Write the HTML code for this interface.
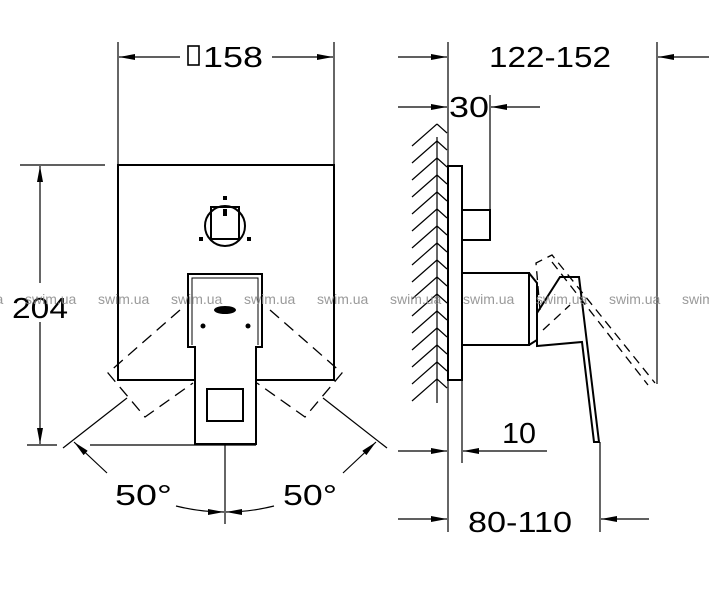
<!DOCTYPE html>
<html><head><meta charset="utf-8"><style>
html,body{margin:0;padding:0;background:#fff;}
svg{display:block;}
text{font-family:"Liberation Sans Narrow","Liberation Sans",sans-serif;}
</style></head><body>
<svg width="709" height="600" viewBox="0 0 709 600" xmlns="http://www.w3.org/2000/svg">
<defs>
<marker id="a" viewBox="0 0 16 6" refX="16" refY="3" markerWidth="16" markerHeight="6" markerUnits="userSpaceOnUse" orient="auto"><path d="M0,0 L16,3 L0,6 Z" fill="#000"/></marker>
</defs>
<g stroke="#000" fill="none" stroke-width="1.2">
<!-- top 158 dim -->
<line x1="118" y1="42" x2="118" y2="165"/>
<line x1="334" y1="42" x2="334" y2="165"/>
<line x1="180" y1="57" x2="119" y2="57" marker-end="url(#a)"/>
<line x1="272" y1="57" x2="333" y2="57" marker-end="url(#a)"/>
<!-- left 204 dim -->
<line x1="20" y1="165" x2="105" y2="165"/>
<line x1="27" y1="445" x2="57" y2="445"/>
<line x1="90" y1="445" x2="256" y2="445"/>
<line x1="40" y1="283" x2="40" y2="166" marker-end="url(#a)"/>
<line x1="40" y1="322" x2="40" y2="444" marker-end="url(#a)"/>
<!-- rays -->
<line x1="63" y1="448" x2="127" y2="398"/>
<line x1="387" y1="448" x2="323" y2="398"/>
<line x1="107" y1="473" x2="74" y2="442" marker-end="url(#a)"/>
<line x1="343" y1="473" x2="376" y2="442" marker-end="url(#a)"/>
<line x1="225" y1="445" x2="225" y2="524"/>
<path d="M176,506 Q200,512 224,512" marker-end="url(#a)"/>
<path d="M274,506 Q250,512 226,512" marker-end="url(#a)"/>
</g>
<g stroke="#000" fill="none" stroke-width="2">
<rect x="118" y="165" width="216" height="215"/>
<circle cx="225" cy="226" r="20"/>
<rect x="211" y="207" width="28" height="32"/>
<path d="M188,347 V274 H262 V347 H256 V444 H195 V347 Z" fill="#fff"/>
<path d="M192,345 V278 H258 V345" stroke-width="1"/>
<rect x="207" y="389" width="36" height="32"/>
</g>
<g fill="#000">
<rect x="223" y="196" width="4" height="4"/><rect x="223" y="209" width="4" height="7"/>
<rect x="199" y="237" width="4" height="4"/><rect x="247" y="237" width="4" height="4"/>
<ellipse cx="225" cy="310" rx="11" ry="4"/>
<circle cx="203" cy="326" r="2.5"/><circle cx="248" cy="326" r="2.5"/>
</g>
<g stroke="#000" fill="none" stroke-width="1.3" stroke-dasharray="12,7">
<path d="M180,310 L108,373 L145,417 L193,383"/>
<path d="M270,310 L342,373 L305,417 L257,383"/>
</g>
<!-- right view dims -->
<g stroke="#000" fill="none" stroke-width="1.2">
<line x1="448" y1="42" x2="448" y2="532"/>
<line x1="657" y1="42" x2="657" y2="384"/>
<line x1="398" y1="57" x2="447" y2="57" marker-end="url(#a)"/>
<line x1="709" y1="57" x2="658" y2="57" marker-end="url(#a)"/>
<line x1="490" y1="95" x2="490" y2="210"/>
<line x1="398" y1="107" x2="447" y2="107" marker-end="url(#a)"/>
<line x1="540" y1="107" x2="491" y2="107" marker-end="url(#a)"/>
<line x1="462" y1="380" x2="462" y2="463"/>
<line x1="398" y1="451" x2="447" y2="451" marker-end="url(#a)"/>
<line x1="547" y1="451" x2="463" y2="451" marker-end="url(#a)"/>
<line x1="600" y1="442" x2="600" y2="532"/>
<line x1="398" y1="519" x2="447" y2="519" marker-end="url(#a)"/>
<line x1="649" y1="519" x2="601" y2="519" marker-end="url(#a)"/>
<path d="M412,146 l25,-22 M412,163 l25,-22 M412,180 l25,-22 M412,197 l25,-22 M412,214 l25,-22 M412,231 l25,-22 M412,248 l25,-22 M412,265 l25,-22 M412,282 l25,-22 M412,299 l25,-22 M412,316 l25,-22 M412,333 l25,-22 M412,350 l25,-22 M412,367 l25,-22 M412,384 l25,-22 M412,401 l25,-22"/>
<path d="M437,124 l10,9 M437,141 l10,9 M437,158 l10,9 M437,175 l10,9 M437,192 l10,9 M437,209 l10,9 M437,226 l10,9 M437,243 l10,9 M437,260 l10,9 M437,277 l10,9 M437,294 l10,9 M437,311 l10,9 M437,328 l10,9 M437,345 l10,9 M437,362 l10,9 M437,379 l10,9"/>
<line x1="437" y1="137" x2="437" y2="403"/>
</g>
<g stroke="#000" fill="none" stroke-width="2">
<rect x="448" y="166" width="14" height="214"/>
<rect x="462" y="210" width="28" height="30"/>
<path d="M462,273 H529 V345 H462"/>
<path d="M529,273 L537,283 L537,340 L529,345"/>
<path d="M537,346 L537,313 L560,277 L579,277 L599,442 L594,442 L582,342 Z" fill="#fff"/>
</g>
<g stroke="#000" fill="none" stroke-width="1.3" stroke-dasharray="9,6">
<path d="M540,310 L536,263 L552,255 L655,383"/>
<path d="M552,262 L648,385"/>
<path d="M543,330 L556,318 L570,305"/>
</g>
<!-- labels -->
<g font-size="29" fill="#000">
<rect x="188" y="46" width="11" height="19" fill="none" stroke="#000" stroke-width="1.6"/>
<text x="203" y="67" textLength="60" lengthAdjust="spacingAndGlyphs">158</text>
<text x="489" y="67" textLength="122" lengthAdjust="spacingAndGlyphs">122-152</text>
<text x="449" y="117" textLength="40" lengthAdjust="spacingAndGlyphs">30</text>
<text x="12" y="318" textLength="56" lengthAdjust="spacingAndGlyphs">204</text>
<text x="115" y="505" textLength="57" lengthAdjust="spacingAndGlyphs">50°</text>
<text x="283" y="505" textLength="54" lengthAdjust="spacingAndGlyphs">50°</text>
<text x="502" y="443" textLength="34" lengthAdjust="spacingAndGlyphs">10</text>
<text x="468" y="532" textLength="104" lengthAdjust="spacingAndGlyphs">80-110</text>
</g>
<g font-size="14" fill="#888" fill-opacity="0.85" style="font-family:'Liberation Sans',sans-serif">
<text x="-48" y="304">swim.ua</text><text x="25" y="304">swim.ua</text><text x="98" y="304">swim.ua</text><text x="171" y="304">swim.ua</text><text x="244" y="304">swim.ua</text><text x="317" y="304">swim.ua</text><text x="390" y="304">swim.ua</text><text x="463" y="304">swim.ua</text><text x="536" y="304">swim.ua</text><text x="609" y="304">swim.ua</text><text x="682" y="304">swim.ua</text>
</g>
</svg>
</body></html>
